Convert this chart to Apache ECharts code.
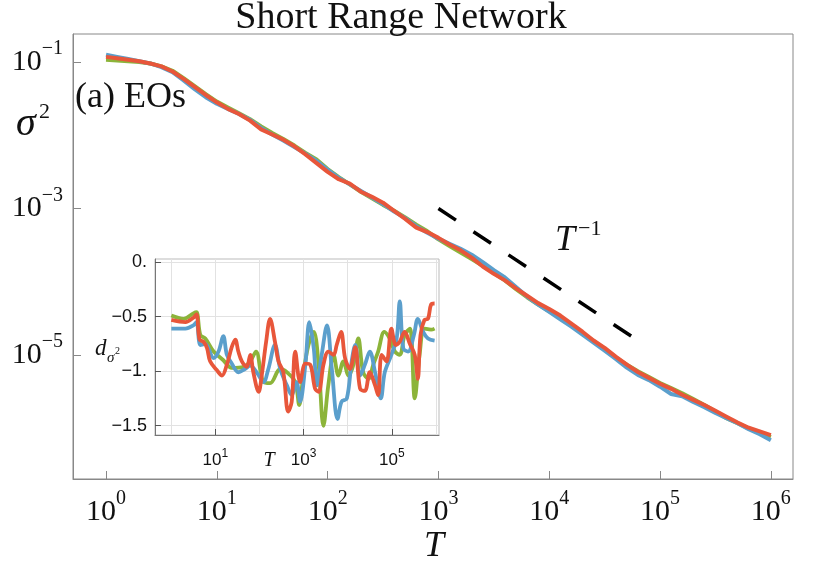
<!DOCTYPE html>
<html>
<head>
<meta charset="utf-8">
<script src="https://cdn.jsdelivr.net/npm/echarts@6/dist/echarts.min.js"></script>
<style>
  html, body { margin: 0; padding: 0; background: #fff; }
  #chart { width: 830px; height: 569px; }
</style>
</head>
<body>
<div id="chart"></div>
<script>
// main panel: log10(T) and log10(sigma^2)
var mainLogT = [0, 0.1, 0.2, 0.3, 0.4, 0.5, 0.6, 0.7, 0.8, 0.9,
  1, 1.1, 1.2, 1.3, 1.4, 1.5, 1.6, 1.7, 1.8, 1.9,
  2, 2.1, 2.2, 2.3, 2.4, 2.5, 2.6, 2.7, 2.8, 2.9,
  3, 3.1, 3.2, 3.3, 3.4, 3.5, 3.6, 3.7, 3.8, 3.9,
  4, 4.1, 4.2, 4.3, 4.4, 4.5, 4.6, 4.7, 4.8, 4.9,
  5, 5.1, 5.2, 5.3, 5.4, 5.5, 5.6, 5.7, 5.8, 5.9, 6];
var blueMain = [-0.90, -0.93, -0.96, -0.99, -1.02, -1.07, -1.14, -1.25, -1.37, -1.48,
  -1.57, -1.64, -1.71, -1.79, -1.90, -1.99, -2.07, -2.16, -2.25, -2.35,
  -2.47, -2.58, -2.67, -2.76, -2.85, -2.94, -3.04, -3.13, -3.24, -3.33,
  -3.41, -3.48, -3.55, -3.63, -3.73, -3.84, -3.94, -4.07, -4.20, -4.31,
  -4.41, -4.51, -4.61, -4.72, -4.83, -4.94, -5.05, -5.17, -5.27, -5.34,
  -5.43, -5.53, -5.56, -5.64, -5.71, -5.79, -5.86, -5.93, -6.01, -6.08, -6.16];
var greenMain = [-0.97, -0.98, -0.99, -1.00, -1.02, -1.06, -1.12, -1.22, -1.33, -1.44,
  -1.54, -1.62, -1.70, -1.78, -1.88, -1.97, -2.05, -2.14, -2.24, -2.33,
  -2.46, -2.57, -2.67, -2.77, -2.86, -2.95, -3.03, -3.12, -3.22, -3.31,
  -3.42, -3.51, -3.60, -3.69, -3.78, -3.88, -3.98, -4.10, -4.21, -4.31,
  -4.40, -4.49, -4.59, -4.70, -4.81, -4.91, -5.03, -5.13, -5.22, -5.30,
  -5.38, -5.45, -5.52, -5.60, -5.68, -5.77, -5.86, -5.93, -6.00, -6.06, -6.12];
var redMain = [-0.93, -0.95, -0.97, -0.99, -1.02, -1.06, -1.13, -1.23, -1.34, -1.45,
  -1.55, -1.64, -1.71, -1.80, -1.92, -1.99, -2.06, -2.15, -2.26, -2.38,
  -2.50, -2.60, -2.66, -2.77, -2.84, -2.92, -3.03, -3.14, -3.26, -3.32,
  -3.40, -3.49, -3.57, -3.67, -3.79, -3.89, -3.98, -4.09, -4.19, -4.29,
  -4.37, -4.46, -4.57, -4.68, -4.80, -4.90, -5.02, -5.13, -5.23, -5.31,
  -5.39, -5.46, -5.54, -5.61, -5.68, -5.76, -5.84, -5.92, -5.99, -6.04, -6.09];
// T^-1 guide
var guideLogT = [3, 4.79];
var guideLogS = [-3, -4.79];

var mainXTicks = [0, 1, 2, 3, 4, 5, 6];
var mainYTicks = [-1, -3, -5];

// inset: d_sigma2 against log10(T)
var greenInsetT = [0, 0.28, 0.5, 0.57, 0.66, 0.77, 0.96, 1.18, 1.37, 1.64, 1.79, 1.92, 2.09, 2.24, 2.47, 2.62, 2.81, 2.9, 3.0, 3.11, 3.23, 3.34, 3.45, 3.56, 3.68, 3.79, 3.9, 4.02, 4.13, 4.24, 4.35, 4.47, 4.58, 4.69, 4.83, 4.95, 5.07, 5.18, 5.29, 5.41, 5.52, 5.63, 5.74, 5.89, 5.97];
var greenInsetD = [-0.49, -0.52, -0.47, -0.46, -0.67, -0.70, -0.82, -0.90, -0.97, -0.96, -0.91, -0.82, -1.10, -1.11, -0.98, -1.01, -1.10, -1.31, -1.01, -0.76, -0.64, -0.94, -1.50, -1.13, -0.85, -1.04, -0.91, -1.04, -0.94, -0.70, -1.01, -1.07, -0.94, -0.82, -0.64, -0.70, -0.82, -0.85, -0.67, -0.61, -1.25, -0.85, -0.61, -0.62, -0.61];
var blueInsetT = [0, 0.32, 0.5, 0.57, 0.66, 0.77, 0.96, 1.07, 1.18, 1.26, 1.37, 1.52, 1.67, 1.79, 1.95, 2.09, 2.2, 2.35, 2.47, 2.62, 2.73, 2.84, 2.92, 3.04, 3.13, 3.23, 3.3, 3.41, 3.53, 3.64, 3.77, 3.86, 3.98, 4.09, 4.17, 4.28, 4.39, 4.5, 4.62, 4.75, 4.84, 4.99, 5.11, 5.18, 5.26, 5.37, 5.5, 5.59, 5.71, 5.82, 5.97];
var blueInsetD = [-0.61, -0.61, -0.58, -0.55, -0.76, -0.75, -0.88, -0.82, -0.68, -0.85, -0.93, -1.01, -0.98, -0.95, -1.02, -1.10, -0.98, -0.76, -0.98, -1.13, -1.22, -1.10, -1.28, -0.94, -0.55, -0.79, -1.13, -0.85, -0.58, -0.98, -1.44, -1.28, -1.25, -0.91, -0.76, -1.04, -0.94, -0.82, -1.01, -1.25, -1.01, -0.85, -0.70, -0.36, -0.79, -0.82, -0.67, -0.52, -0.64, -0.70, -0.72];
var redInsetT = [0, 0.32, 0.5, 0.57, 0.64, 0.73, 0.81, 0.88, 1.03, 1.15, 1.26, 1.37, 1.45, 1.52, 1.6, 1.71, 1.79, 1.86, 1.98, 2.05, 2.15, 2.24, 2.35, 2.43, 2.54, 2.65, 2.73, 2.81, 2.92, 3.04, 3.15, 3.26, 3.34, 3.45, 3.56, 3.68, 3.75, 3.85, 3.94, 4.05, 4.17, 4.28, 4.39, 4.5, 4.62, 4.69, 4.77, 4.88, 4.99, 5.09, 5.18, 5.29, 5.41, 5.52, 5.59, 5.65, 5.74, 5.82, 5.89, 5.97];
var redInsetD = [-0.53, -0.55, -0.51, -0.48, -0.71, -0.73, -0.79, -0.91, -0.99, -1.04, -0.94, -0.78, -0.71, -0.82, -0.91, -0.96, -0.85, -1.01, -1.19, -1.04, -0.73, -0.52, -0.73, -0.91, -1.01, -1.37, -1.28, -0.82, -1.10, -0.93, -0.94, -1.16, -1.19, -0.94, -0.82, -0.85, -0.76, -0.64, -0.88, -0.98, -0.78, -1.16, -1.18, -1.01, -1.13, -1.22, -0.85, -0.91, -0.61, -0.76, -0.73, -0.64, -0.75, -0.85, -1.07, -0.67, -0.53, -0.52, -0.39, -0.38];

var insetXTicks = [1, 3, 5];
var insetXGrid = [0, 1, 2, 3, 4, 5, 6];
var insetYTicks = [0, -0.5, -1, -1.5];
var insetYLabels = ['0.', '\u22120.5', '\u22121.', '\u22121.5'];

var BLUE = '#5b9fcc', GREEN = '#8cb43a', RED = '#e8563a';
var SERIF = 'Liberation Serif', SANS = 'Liberation Sans';

function pairs(xs, ys) {
  var out = [];
  for (var i = 0; i < xs.length; i++) out.push([xs[i], ys[i]]);
  return out;
}
function powLabel(v) {
  var e = String(v).replace('-', '\u2212');
  return '{b|10}{s|' + e + '}';
}

var myChart = echarts.init(document.getElementById('chart'));
var option = {
  animation: false,
  backgroundColor: '#fff',
  grid: [
    { left: 73, top: 34, width: 720, height: 445, show: true, borderColor: '#888', borderWidth: 1 },
    { left: 155, top: 259, width: 284, height: 176, show: true, borderColor: '#bbb', borderWidth: 1, backgroundColor: '#fff', z: 5 }
  ],
  xAxis: [
    {
      type: 'value', gridIndex: 0, min: -0.298, max: 6.2,
      axisLine: { onZero: false, lineStyle: { color: '#888', width: 1 } },
      axisTick: { inside: true, length: 8, customValues: mainXTicks, lineStyle: { color: '#888' } },
      splitLine: { show: false },
      axisLabel: {
        customValues: mainXTicks, margin: 10, formatter: powLabel,
        rich: {
          b: { fontFamily: SERIF, fontSize: 30, color: '#111', lineHeight: 46 },
          s: { fontFamily: SERIF, fontSize: 20, color: '#111', verticalAlign: 'top', lineHeight: 20 }
        }
      }
    },
    {
      type: 'value', gridIndex: 1, min: -0.37, max: 6.07, z: 6,
      axisLine: { onZero: false, lineStyle: { color: '#777', width: 1 } },
      axisTick: { inside: true, length: 6, customValues: insetXTicks, lineStyle: { color: '#555' } },
      splitLine: { show: false },
      axisLabel: {
        customValues: insetXTicks, margin: 13, formatter: powLabel,
        rich: {
          b: { fontFamily: SANS, fontSize: 17, color: '#111', lineHeight: 24 },
          s: { fontFamily: SANS, fontSize: 12, color: '#111', verticalAlign: 'top', lineHeight: 12 }
        }
      }
    },
    {
      type: 'value', gridIndex: 1, min: -0.37, max: 6.07, z: 6,
      axisLine: { show: false, onZero: false },
      axisTick: { show: false, customValues: insetXGrid },
      axisLabel: { show: false },
      splitLine: { show: true, lineStyle: { color: '#e2e2e2', width: 1 } }
    }
  ],
  yAxis: [
    {
      type: 'value', gridIndex: 0, min: -6.69, max: -0.618,
      axisLine: { onZero: false, lineStyle: { color: '#888', width: 1 } },
      axisTick: { inside: true, length: 8, customValues: mainYTicks, lineStyle: { color: '#888' } },
      splitLine: { show: false },
      axisLabel: {
        customValues: mainYTicks, margin: 10, formatter: powLabel,
        rich: {
          b: { fontFamily: SERIF, fontSize: 30, color: '#111', lineHeight: 46 },
          s: { fontFamily: SERIF, fontSize: 20, color: '#111', verticalAlign: 'top', lineHeight: 20 }
        }
      }
    },
    {
      type: 'value', gridIndex: 1, min: -1.585, max: 0.028, z: 6,
      axisLine: { onZero: false, lineStyle: { color: '#777', width: 1 } },
      axisTick: { inside: true, length: 6, customValues: insetYTicks, lineStyle: { color: '#555' } },
      splitLine: { show: true, lineStyle: { color: '#e2e2e2', width: 1 } },
      axisLabel: {
        customValues: insetYTicks, margin: 8, fontFamily: SANS, fontSize: 18, color: '#111',
        formatter: function (v) { return insetYLabels[insetYTicks.indexOf(v)]; }
      }
    }
  ],
  series: [
    { type: 'line', xAxisIndex: 0, yAxisIndex: 0, data: pairs(mainLogT, greenMain), showSymbol: false, lineStyle: { color: GREEN, width: 4 } },
    { type: 'line', xAxisIndex: 0, yAxisIndex: 0, data: pairs(mainLogT, blueMain), showSymbol: false, lineStyle: { color: BLUE, width: 4 } },
    { type: 'line', xAxisIndex: 0, yAxisIndex: 0, data: pairs(mainLogT, redMain), showSymbol: false, lineStyle: { color: RED, width: 4 } },
    { type: 'line', xAxisIndex: 0, yAxisIndex: 0, data: pairs(guideLogT, guideLogS), showSymbol: false,
      lineStyle: { color: '#000', width: 3.5, type: [21, 21], cap: 'butt' } },
    { type: 'line', xAxisIndex: 1, yAxisIndex: 1, z: 8, smooth: 0.35, data: pairs(greenInsetT, greenInsetD), showSymbol: false, lineStyle: { color: GREEN, width: 3.8 } },
    { type: 'line', xAxisIndex: 1, yAxisIndex: 1, z: 8, smooth: 0.35, data: pairs(blueInsetT, blueInsetD), showSymbol: false, lineStyle: { color: BLUE, width: 3.8 } },
    { type: 'line', xAxisIndex: 1, yAxisIndex: 1, z: 8, smooth: 0.35, data: pairs(redInsetT, redInsetD), showSymbol: false, lineStyle: { color: RED, width: 3.8 } }
  ],
  graphic: [
    { type: 'text', x: 401, y: 18, style: { text: 'Short Range Network', fontFamily: SERIF, fontSize: 38, fill: '#111', align: 'center', verticalAlign: 'middle' } },
    { type: 'text', x: 75, y: 98, style: { text: '(a) EOs', fontFamily: SERIF, fontSize: 36, fill: '#111', align: 'left', verticalAlign: 'middle' } },
    { type: 'text', x: 16, y: 124, style: { text: '\u03c3', fontFamily: SERIF, fontStyle: 'italic', fontSize: 40, fill: '#111', align: 'left', verticalAlign: 'middle' } },
    { type: 'text', x: 39, y: 112, style: { text: '2', fontFamily: SERIF, fontSize: 22, fill: '#111', align: 'left', verticalAlign: 'middle' } },
    { type: 'text', x: 434, y: 547, style: { text: 'T', fontFamily: SERIF, fontStyle: 'italic', fontSize: 36, fill: '#111', align: 'center', verticalAlign: 'middle' } },
    { type: 'text', x: 555, y: 241, style: { text: 'T', fontFamily: SERIF, fontStyle: 'italic', fontSize: 36, fill: '#111', align: 'left', verticalAlign: 'middle' } },
    { type: 'text', x: 578, y: 229, style: { text: '\u22121', fontFamily: SERIF, fontSize: 22, fill: '#111', align: 'left', verticalAlign: 'middle' } },
    { type: 'text', x: 269, y: 461, z: 20, style: { text: 'T', fontFamily: SERIF, fontStyle: 'italic', fontSize: 20, fill: '#111', align: 'center', verticalAlign: 'middle' } },
    { type: 'text', x: 95, y: 349, z: 20, style: { text: 'd', fontFamily: SERIF, fontStyle: 'italic', fontSize: 23, fill: '#111', align: 'left', verticalAlign: 'middle' } },
    { type: 'text', x: 107, y: 358, z: 20, style: { text: '\u03c3', fontFamily: SERIF, fontStyle: 'italic', fontSize: 15, fill: '#111', align: 'left', verticalAlign: 'middle' } },
    { type: 'text', x: 115, y: 351, z: 20, style: { text: '2', fontFamily: SERIF, fontSize: 10, fill: '#111', align: 'left', verticalAlign: 'middle' } }
  ]
};
myChart.setOption(option);
</script>
</body>
</html>
